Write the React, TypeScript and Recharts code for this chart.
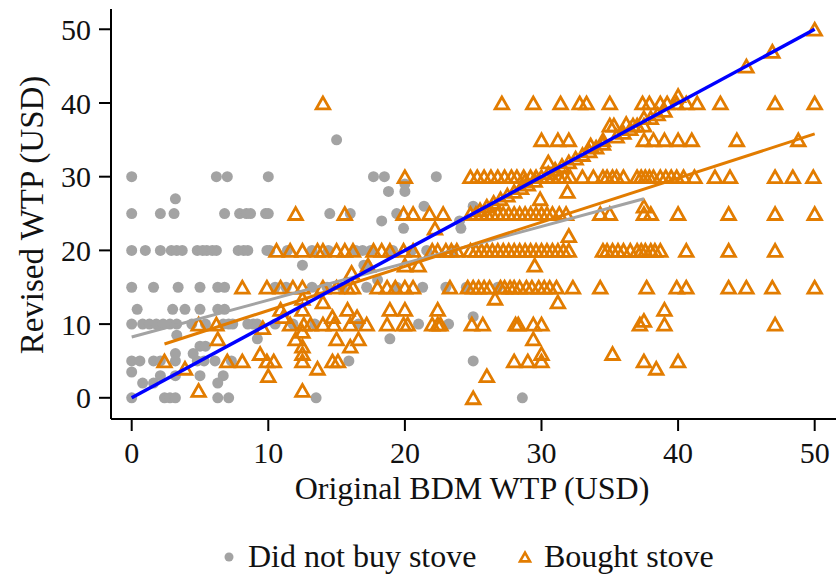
import { ScatterChart, Scatter, XAxis, YAxis } from 'recharts'

type Row = [number, number[]]

const FONT = '"Liberation Serif", "Times New Roman", serif'
const GRAY = '#a3a3a3'
const ORANGE = '#e27c00'
const BLUE = '#0000ff'

const X_TICKS = [0, 10, 20, 30, 40, 50]
const Y_TICKS = [0, 10, 20, 30, 40, 50]

// did not buy stove: [revised WTP, original WTP values at that level]
const DID_NOT_BUY: Row[] = [
  [35, [15]],
  [30, [0, 6.2, 7.0, 10.0, 17.7, 18.5, 22.3]],
  [29, [20]],
  [28, [18.8, 20]],
  [27, [3.2]],
  [26, [21.4, 25]],
  [25, [0, 2.1, 3.1, 6.8, 7.9, 8.4, 8.7, 9.8, 10.0, 14.5, 16, 19.4]],
  [24, [18.3, 24]],
  [23, [19.9, 24.1]],
  [20, [0, 1, 2.1, 2.9, 3.3, 3.7, 4.8, 5.2, 5.5, 5.9, 6.2, 7.8, 8.2, 8.5, 9.9, 10.1, 11.4, 13.2, 14.4, 16.4, 16.9, 17.5, 19.1, 20.5, 21.6, 23.5]],
  [18, [12.5, 17, 17.2]],
  [16, [18]],
  [15, [0, 1.6, 3.4, 5, 6.3, 6.8, 10.5, 11.3, 13.2, 14.3, 15.4, 17.2, 19.4, 21.3, 23, 24.5, 26.8]],
  [12, [0.4, 3, 3.9, 5, 6.3, 6.8]],
  [11, [25]],
  [10, [0, 0.8, 1.3, 1.8, 2.3, 2.8, 3.3, 4.4, 5.4, 6.7, 7.1, 7.4, 8.5, 8.9, 9.2, 10.5, 11.8, 13.4, 16.6, 21, 23.2]],
  [8.5, [3.3]],
  [8, [9.2, 18.9]],
  [7, [5, 5.4]],
  [6, [3.2, 4.5]],
  [5, [0, 0.6, 1.6, 2.1, 3.2, 4.8, 5.3, 6.1, 7.3, 15.9, 25]],
  [3.5, [0]],
  [3, [2.1, 3.2, 5, 6.7]],
  [2, [0.8, 1.6, 6.3]],
  [0, [0, 2.4, 2.8, 3.2, 6.3, 7.1, 13.5, 28.6]],
]

const BOUGHT: Row[] = [
  [50, [50]],
  [47, [46.9]],
  [45, [45]],
  [41, [40]],
  [40, [14, 27.1, 29.4, 31.4, 32.8, 33.3, 35, 37.4, 37.9, 38.7, 39.2, 39.9, 40.6, 41.4, 43.1, 47.1, 50]],
  [38, [37.5, 38]],
  [37, [35, 35.3, 36.7, 37.5]],
  [35, [30, 31.2, 32, 34.5, 37.5, 38.2, 39, 40, 41, 44.3, 48.8]],
  [32, [30.5]],
  [30, [20, 24.8, 25.3, 25.8, 26.3, 26.8, 27.3, 27.8, 28.2, 28.7, 29.2, 29.6, 30, 30.4, 30.8, 31.3, 31.7, 32.1, 33, 33.8, 34.5, 34.8, 35.2, 35.5, 36, 37, 37.3, 37.6, 37.9, 38.2, 38.7, 39.1, 39.5, 39.9, 40.4, 41.2, 42.7, 43.8, 47.1, 48.4, 49.9]],
  [28, [31.9]],
  [27, [29.9]],
  [26, [37.5]],
  [25, [12, 15.6, 19.9, 20.6, 21.8, 22.8, 24.8, 25.2, 25.6, 26, 26.4, 26.8, 27.2, 27.6, 28, 28.4, 28.8, 29.2, 29.6, 30, 30.4, 30.8, 31.3, 31.8, 34.3, 35, 37.5, 38, 40, 43.7, 47.1, 50]],
  [23, [22.2]],
  [22, [32]],
  [20, [10.6, 11.6, 12.5, 13.6, 14, 15, 15.6, 16.2, 17.7, 18.3, 18.9, 19.9, 20.6, 22, 22.4, 23, 23.4, 23.8, 24.8, 25.2, 25.6, 26, 26.4, 26.8, 27.2, 27.6, 28, 28.4, 28.8, 29.2, 29.6, 30, 30.4, 30.8, 31.2, 31.6, 32, 34.5, 34.8, 35.2, 35.6, 36, 36.5, 37, 37.3, 37.6, 38, 38.3, 38.7, 40.6, 43.7, 47.1]],
  [18, [17.3, 20, 21, 29.5]],
  [17, [16.1]],
  [15, [8.1, 9.9, 10.9, 11.8, 12.5, 14, 15, 15.8, 16.2, 18, 18.7, 19.3, 20, 20.6, 23.3, 24.6, 25, 25.4, 25.8, 26.2, 27, 27.3, 27.7, 28, 28.4, 28.9, 29.3, 29.8, 30.2, 30.6, 31.1, 32.3, 34.3, 37.7, 39.9, 40.6, 43.7, 45, 46.9, 50]],
  [13.5, [12.5, 26.6]],
  [13, [14, 31.2]],
  [12, [10.9, 12.5, 15.8, 18.9, 20, 22.4, 39]],
  [11, [11.1, 14.7, 16.5]],
  [10.5, [37.5]],
  [10, [4.9, 6.2, 11.6, 12.6, 13.1, 14, 14.8, 16, 17.2, 18.7, 19.9, 20.2, 22, 22.4, 22.6, 24.9, 25.7, 28.1, 28.3, 29.4, 30, 37.2, 39, 47.1]],
  [9.5, [9.6]],
  [9, [12.5]],
  [8, [6.3, 12, 15, 16.6, 29.4]],
  [7, [12.5, 16]],
  [6, [9.4, 12.5, 30, 35.2]],
  [5, [2.4, 7, 8.1, 9.9, 10.4, 12.5, 14.7, 15.1, 28, 29, 30, 37.5, 40]],
  [4, [3.9, 13.6, 38.4]],
  [3, [10, 26]],
  [1, [4.9, 12.5]],
  [0, [25]],
]

// bought stove, revised bid equal (or close) to the original bid
const BOUGHT_DIAGONAL: [number, number][] = [
  [25.5, 25.5], [26, 26], [26.5, 26.5], [27, 27], [27.5, 27.5], [28, 28],
  [28.5, 28.5], [28.8, 29.5], [29, 29], [29.5, 29.5], [30.5, 30.5], [31, 31],
  [31.5, 31.5], [32, 32], [32.5, 32.5], [33, 33], [33.5, 33.5], [33.6, 34.3],
  [34, 34], [34.5, 34.5], [35.5, 35.5], [36, 36], [36.2, 37.2], [36.5, 36.5],
  [37, 37], [38.5, 38.5], [39, 39],
]

// fitted lines and the 45 degree line
const FIT_NOT_BUY_X = [0, 37.5]
const FIT_NOT_BUY_Y = [8.25, 27.0]
const FIT_BOUGHT_X = [2.4, 50]
const FIT_BOUGHT_Y = [7.3, 35.8]
const DIAG_X = [0, 50]
const DIAG_Y = [0, 50]

const toPoints = (rows: Row[]) =>
  rows.flatMap(([y, xs]) => xs.map(x => ({ x, y })))
const toLine = (xs: number[], ys: number[]) => xs.map((x, i) => ({ x, y: ys[i] }))

const grayData = toPoints(DID_NOT_BUY)
const orangeData = [...toPoints(BOUGHT), ...BOUGHT_DIAGONAL.map(([x, y]) => ({ x, y }))]

function Triangle({ cx, cy, s = 13.5, sw = 2.8 }: { cx: number; cy: number; s?: number; sw?: number }) {
  const h = s * 0.88
  return (
    <polygon
      points={`${cx},${cy - h / 2} ${cx - s / 2},${cy + h / 2} ${cx + s / 2},${cy + h / 2}`}
      fill="none"
      stroke={ORANGE}
      strokeWidth={sw}
    />
  )
}

const noShape = () => <g />

export default function App() {
  const tick = { fill: '#111', fontSize: 30, fontFamily: FONT }
  return (
    <div style={{ position: 'absolute', left: 0, top: 0, width: 836, height: 579, background: '#fff' }}>
      <ScatterChart width={836} height={579} margin={{ top: 9, right: 0, left: 0, bottom: 0 }}>
        <XAxis
          type="number"
          dataKey="x"
          domain={[-1.515, 51.56]}
          allowDataOverflow
          ticks={X_TICKS}
          height={160}
          tick={tick}
          tickSize={12}
          tickMargin={11}
          axisLine={{ stroke: '#000', strokeWidth: 2 }}
          tickLine={{ stroke: '#000', strokeWidth: 2 }}
        />
        <YAxis
          type="number"
          dataKey="y"
          domain={[-2.876, 52.75]}
          allowDataOverflow
          ticks={Y_TICKS}
          width={111}
          tick={tick}
          tickSize={12}
          tickMargin={8}
          axisLine={{ stroke: '#000', strokeWidth: 2 }}
          tickLine={{ stroke: '#000', strokeWidth: 2 }}
        />
        <Scatter
          data={grayData}
          fill={GRAY}
          isAnimationActive={false}
          shape={(p: any) => <circle cx={p.cx} cy={p.cy} r={5.5} fill={GRAY} />}
        />
        <Scatter
          data={orangeData}
          fill={ORANGE}
          isAnimationActive={false}
          shape={(p: any) => <Triangle cx={p.cx} cy={p.cy} />}
        />
        <Scatter
          data={toLine(FIT_NOT_BUY_X, FIT_NOT_BUY_Y)}
          line={{ stroke: GRAY, strokeWidth: 3 }}
          shape={noShape}
          isAnimationActive={false}
        />
        <Scatter
          data={toLine(FIT_BOUGHT_X, FIT_BOUGHT_Y)}
          line={{ stroke: ORANGE, strokeWidth: 3 }}
          shape={noShape}
          isAnimationActive={false}
        />
        <Scatter
          data={toLine(DIAG_X, DIAG_Y)}
          line={{ stroke: BLUE, strokeWidth: 3.5 }}
          shape={noShape}
          isAnimationActive={false}
        />
      </ScatterChart>

      <svg
        width={836}
        height={579}
        style={{ position: 'absolute', left: 0, top: 0, pointerEvents: 'none' }}
        fontFamily={FONT}
        fill="#111"
      >
        <text x={472} y={499} fontSize={32} textAnchor="middle">Original BDM WTP (USD)</text>
        <text transform="translate(43, 215) rotate(-90)" fontSize={33} textAnchor="middle">Revised WTP (USD)</text>
        <circle cx={229} cy={557} r={4.5} fill={GRAY} />
        <text x={248} y={567} fontSize={32}>Did not buy stove</text>
        <Triangle cx={525} cy={557} s={10} sw={2.6} />
        <text x={544} y={567} fontSize={32}>Bought stove</text>
      </svg>
    </div>
  )
}
